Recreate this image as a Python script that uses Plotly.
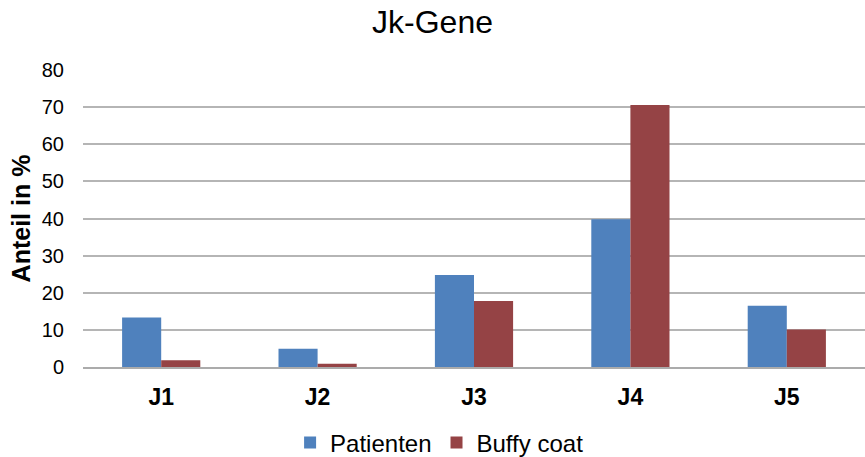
import plotly.graph_objects as go

categories = ["J1", "J2", "J3", "J4", "J5"]
patienten = [13.3, 4.9, 24.8, 39.8, 16.5]
buffy_coat = [1.8, 0.9, 17.8, 70.6, 10.1]
y_ticks = [0, 10, 20, 30, 40, 50, 60, 70, 80]

fig = go.Figure()
fig.add_trace(go.Bar(x=categories, y=patienten, name="Patienten",
                     marker=dict(color="#4F81BD", line=dict(width=0))))
fig.add_trace(go.Bar(x=categories, y=buffy_coat, name="Buffy coat",
                     marker=dict(color="#954345", line=dict(width=0))))

fig.update_layout(
    width=865, height=457,
    paper_bgcolor="white", plot_bgcolor="white",
    font=dict(family="Liberation Sans, Arial, sans-serif", color="black"),
    title=dict(text="Jk-Gene", x=0.5, xanchor="center", yref="container",
               y=1 - 22 / 457, yanchor="middle",
               font=dict(size=32, color="black")),
    margin=dict(l=83, r=0, t=70, b=90),
    barmode="group", bargap=0.5, bargroupgap=0,
    legend=dict(orientation="h", x=0.456, xanchor="center", yref="container",
                y=14 / 457, yanchor="middle",
                font=dict(size=24), itemwidth=30, traceorder="normal",
                bgcolor="rgba(0,0,0,0)"),
    showlegend=True,
)
fig.update_xaxes(tickfont=dict(size=23, family="Liberation Sans, Arial", weight="bold"),
                 showline=True, linecolor="#ababab", linewidth=2, ticks="",
                 ticklabelstandoff=8, automargin=False)
fig.update_yaxes(range=[0, 80], tickvals=y_ticks, tickfont=dict(size=20),
                 showgrid=True, gridcolor="#b5b5b5", gridwidth=2, zeroline=False,
                 ticks="", ticklabelstandoff=18, automargin=False,
                 title=dict(text="<b>Anteil in %</b>", font=dict(size=25), standoff=4))

fig.write_html("out.html", config={"displayModeBar": False},
               post_script="document.body.style.margin='0px';")
